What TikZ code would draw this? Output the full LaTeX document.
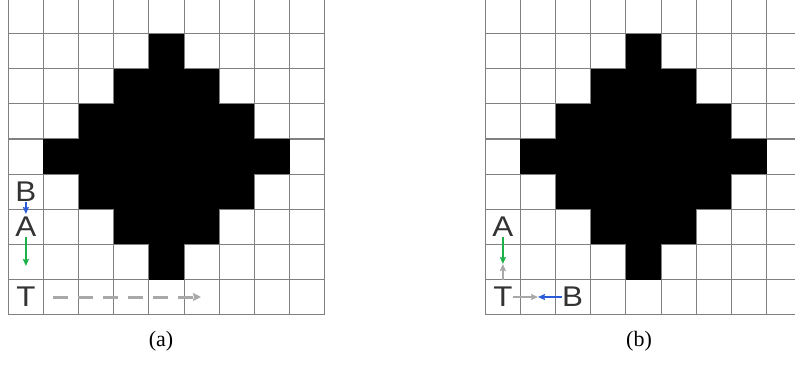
\documentclass[tikz,border=0pt]{standalone}
\usepackage{fontspec}
\newfontfamily\labfont[FakeStretch=1.1]{Liberation Sans}
\newfontfamily\capfont{Liberation Serif}
\usetikzlibrary{arrows.meta}
\definecolor{gline}{HTML}{808080}
\definecolor{txt}{HTML}{333333}
\definecolor{agreen}{HTML}{1DB14A}
\definecolor{ablue}{HTML}{2B5BD8}
\definecolor{agray}{HTML}{A8A8A8}
\tikzset{
  gridline/.style={draw=gline, line width=1.1bp},
  lab/.style={font=\labfont\fontsize{28.5bp}{28.5bp}\selectfont, text=txt, inner sep=0pt},
  capt/.style={font=\capfont\fontsize{22bp}{22bp}\selectfont, inner sep=0pt},
  arr/.style={line width=2bp, -{Stealth[length=7bp,width=6bp,inset=1bp]}},
  greenarr/.style={arr, draw=agreen, fill=agreen},
  bluearr/.style={arr, draw=ablue, fill=ablue},
  grayarr/.style={arr, line width=2.5bp, draw=agray, fill=agray},
  dasharr/.style={line width=3bp, draw=agray, dash pattern=on 15bp off 10bp,
    -{Stealth[length=8bp,width=8bp,inset=1bp,sep=0pt]}},
}
\begin{document}
\begin{tikzpicture}[x=1bp, y=-1bp]
\useasboundingbox (0,0) rectangle (795,368);
\clip (0,0) rectangle (795,368);
% two pixel grids
\foreach \ox in {8.3, 485.3} {
  \begin{scope}[shift={(\ox,-1.6)}, x=35.15bp, y=-35.15bp]
    \foreach \i in {0,...,9} {
      \draw[gridline] (\i,0) -- (\i,9);
      \draw[gridline] (0,\i) -- (9,\i);
    }
    \foreach \r/\a/\b in {1/4/4, 2/3/5, 3/2/6, 4/1/7, 5/2/6, 6/3/5, 7/4/4} {
      \fill[black] (\a,\r) rectangle (\b+1,\r+1);
    }
  \end{scope}
}
% (a)
\node[lab] (Ba) at (25.9,191.5) {B};
\node[lab] (Aa) at (25.9,227) {A};
\node[lab] (Ta) at (25.9,297) {T};
\coordinate (ga) at (25.9,266);
\coordinate (d1) at (53,297);
\coordinate (d2) at (201,297);
\draw[bluearr] (Ba.south) -- ([yshift=3bp]Aa.north);
\draw[greenarr] (Aa.south) -- (ga);
\draw[dasharr] (d1) -- (d2);
\node[capt] (capa) at (161,341.5) {(a)};
% (b)
\node[lab] (Ab) at (502.9,227) {A};
\node[lab] (Tb) at (502.9,297) {T};
\node[lab] (Bb) at (572.5,297) {B};
\coordinate (mb) at (502.9,264);
\coordinate (hb) at (538,297);
\draw[greenarr] (Ab.south) -- (mb);
\draw[grayarr] ([yshift=7bp]Tb.north) -- (mb);
\draw[grayarr] (Tb.east) -- (hb);
\draw[bluearr] (Bb.west) -- (hb);
\node[capt] (capb) at (639,341.5) {(b)};
\end{tikzpicture}
\end{document}
